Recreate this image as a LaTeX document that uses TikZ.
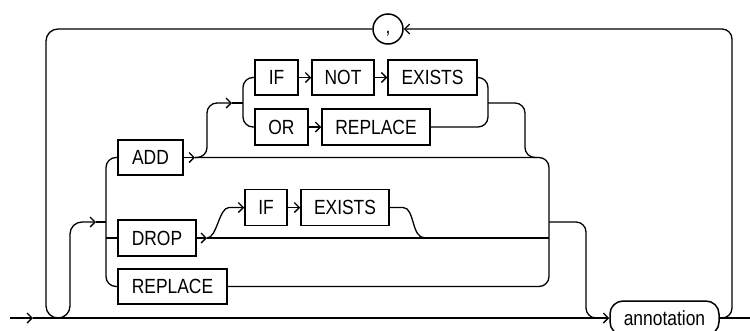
\documentclass[tikz,border=0pt]{standalone}
\usepackage{fontspec}
\newfontfamily\dfont[FakeStretch=0.85]{Liberation Sans}
\usetikzlibrary{arrows.meta}
\tikzset{
  kw/.style={draw, line width=1.5pt, minimum height=35pt, inner sep=0pt, font=\fontsize{20.5}{24}\dfont},
  ln/.style={line width=1.3pt, rounded corners=10pt},
  cv/.style={line width=1.3pt},
  arr/.style={ln, -{Straight Barb[length=5pt,width=10pt,line width=1.3pt]}},
  carr/.style={cv, -{Straight Barb[length=5pt,width=10pt,line width=1.3pt]}}
}
\begin{document}
\begin{tikzpicture}[x=1pt,y=-1pt]
\useasboundingbox (0,0) rectangle (750,330);
% nodes
\node[kw, minimum width=65pt] (add) at (150.5,157.5) {ADD};
\node[kw, minimum width=78pt, minimum height=36pt] (drop) at (157,238) {DROP};
\node[kw, minimum width=109pt] (rep1) at (172.5,286.5) {REPLACE};
\node[kw, minimum width=43pt] (if1) at (276.5,77.5) {IF};
\node[kw, minimum width=62pt] (not) at (343,77.5) {NOT};
\node[kw, minimum width=89pt] (ex1) at (432.5,77.5) {EXISTS};
\node[kw, minimum width=53pt, minimum height=36pt] (or) at (281.5,127) {OR};
\node[kw, minimum width=108pt, minimum height=36pt] (rep2) at (376,127) {REPLACE};
\node[kw, minimum width=42pt, minimum height=36pt] (if2) at (266,207.5) {IF};
\node[kw, minimum width=88pt, minimum height=36pt] (ex2) at (345,207.5) {EXISTS};
\node[kw, circle, minimum size=30pt] (comma) at (388,29) {\raisebox{-4pt}[0pt][0pt]{,}};
\node[kw, rounded corners=13pt, minimum width=109pt, minimum height=34pt] (ann) at (664.5,318) {annotation};
% coordinates
\coordinate (st) at (10,318);
\coordinate (a1) at (33,318);
\coordinate (lp) at (96,222);
\coordinate (b1) at (106,222);
\coordinate (addA) at (195,157.5);
\coordinate (upA) at (232,103);
\coordinate (brA) at (243,103);
\coordinate (dropA) at (207,238);
\coordinate (jR) at (549,222);
\coordinate (endp) at (750,318);
% main line
\draw[arr] (st) -- (a1);
\draw[arr] (a1) -- (ann.west);
\draw[ln] (ann.east) -- (endp);
% loop back
\draw[arr] (ann.east) -- (732,318) -- (732,29) -- (comma.east);
\draw[arr, rounded corners=12pt] (comma.west) -- (46,29) -- (46,318) -- (70,318) -- (70,222) -- (lp);
\draw[ln] (lp) -- (b1);
% left branch bracket
\draw[ln] (add.west) -- (106,157.5) -- (106,286.5) -- (rep1.west);
\draw[ln] (106,238) -- (drop.west);
% ADD row
\draw[arr] (add.east) -- (addA);
\draw[ln] (addA) -- (549,157.5) -- (549,286.5) -- (rep1.east);
\draw[arr] (addA) -- (207,157.5) -- (207,103) -- (upA);
\draw[ln] (upA) -- (brA);
\draw[ln] (if1.west) -- (243,77.5) -- (243,127) -- (or.west);
\draw[arr] (if1.east) -- (not.west);
\draw[arr] (not.east) -- (ex1.west);
\draw[arr] (or.east) -- (rep2.west);
\draw[ln] (ex1.east) -- (488,77.5) -- (488,127) -- (rep2.east);
\draw[ln] (488,103) -- (525,103) -- (525,157.5) -- (537,157.5);
% DROP row
\draw[arr] (drop.east) -- (dropA);
\draw[ln] (dropA) -- (549,238);
\draw[carr] (dropA) .. controls (217,238) and (219,207.5) .. (229,207.5) -- (if2.west);
\draw[arr] (if2.east) -- (ex2.west);
\draw[cv] (ex2.east) -- (403,207.5) .. controls (415,207.5) and (411,238) .. (425,238);
% exit to annotation
\draw[ln] (jR) -- (586,222) -- (586,318) -- (598,318);
\end{tikzpicture}
\end{document}
